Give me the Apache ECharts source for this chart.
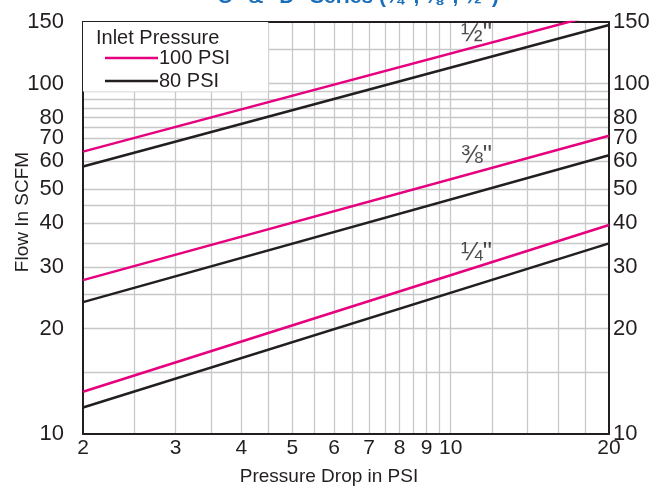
<!DOCTYPE html>
<html>
<head>
<meta charset="utf-8">
<script src="https://cdn.jsdelivr.net/npm/echarts@6/dist/echarts.min.js"></script>
<style>
  html, body { margin: 0; padding: 0; background: #fff; }
  #chart { width: 658px; height: 490px; }
</style>
</head>
<body>
<div id="chart"></div>
<script>
// pressure drop (x) at the two ends of each line
const dropEnds = [2, 20];
// flow in SCFM at those ends
const flowHalf100 = [64, 161];
const flowHalf80 = [58, 147];
const flowThreeEighths100 = [27.5, 71];
const flowThreeEighths80 = [23.8, 62.5];
const flowQuarter100 = [13.2, 39.5];
const flowQuarter80 = [11.9, 35];

const pressureNames = ['100 PSI', '80 PSI'];
const sizeNames = ['\u00bc"', '\u215c"', '\u00bd"'];

// tick labels and grid lines
const xLabels = [2, 3, 4, 5, 6, 7, 8, 9, 10, 20];
const xGrid = [2.5, 3, 3.5, 4, 4.5, 5, 5.5, 6, 6.5, 7, 7.5, 8, 8.5, 9, 9.5, 10, 12, 14, 16, 18];
const yLabels = [10, 20, 30, 40, 50, 60, 70, 80, 100, 150];
const yGrid = [15, 20, 25, 30, 35, 40, 45, 50, 60, 70, 75, 80, 85, 90, 95, 100, 125];

const PINK = '#e6007e';
const BLACK = '#231f20';
const GRID = '#c8c8c8';
const FONT = "'Liberation Sans', Arial, sans-serif";

const chart = echarts.init(document.getElementById('chart'));

function lineSeries(name, flows, color) {
  return {
    name: name,
    type: 'line',
    data: dropEnds.map((x, i) => [x, flows[i]]),
    symbol: 'none',
    lineStyle: { color: color, width: 2.5 },
    itemStyle: { color: color },
    silent: true,
    z: 3
  };
}

const series = [
  lineSeries(pressureNames[0], flowQuarter100, PINK),
  lineSeries(pressureNames[1], flowQuarter80, BLACK),
  lineSeries(pressureNames[0], flowThreeEighths100, PINK),
  lineSeries(pressureNames[1], flowThreeEighths80, BLACK),
  lineSeries(pressureNames[0], flowHalf100, PINK),
  lineSeries(pressureNames[1], flowHalf80, BLACK),
  {
    // white box behind the legend
    type: 'line',
    data: [],
    silent: true,
    markArea: {
      silent: true,
      itemStyle: { color: '#fff' },
      data: [[{ xAxis: 2, yAxis: 95 }, { xAxis: 4.5, yAxis: 150 }]]
    },
    z: 1
  },
  {
    // size labels above the pink lines
    type: 'scatter',
    symbolSize: 0,
    silent: true,
    data: [[11.2, 33], [11.2, 62.4], [11.2, 139]],
    label: {
      show: true,
      position: 'inside',
      formatter: p => sizeNames[p.dataIndex],
      color: BLACK,
      fontSize: 26,
      fontFamily: FONT
    },
    z: 4
  }
];

const xBase = {
  type: 'log',
  logBase: 10,
  min: 2,
  max: 20,
  axisTick: { show: false, customValues: xGrid },
  axisLine: { show: true, onZero: false, lineStyle: { color: BLACK, width: 2 } }
};
const yBase = {
  type: 'log',
  logBase: 10,
  min: 10,
  max: 150,
  axisTick: { show: false, customValues: yGrid },
  axisLine: { show: true, onZero: false, lineStyle: { color: BLACK, width: 2 } }
};

chart.setOption({
  animation: false,
  textStyle: { fontFamily: FONT },
  title: [
    {
      text: '"C" & "D" Series (\u00bc", \u215c", \u00bd")',
      left: 353,
      textAlign: 'center',
      top: -13,
      padding: 0,
      textStyle: { color: '#1b6fb8', fontSize: 21, fontWeight: 'bold', fontFamily: FONT }
    },
    {
      text: 'Inlet Pressure',
      left: 96,
      top: 28,
      padding: 0,
      textStyle: { color: BLACK, fontSize: 20, fontWeight: 'normal', fontFamily: FONT }
    }
  ],
  legend: {
    data: pressureNames,
    orient: 'vertical',
    left: 105,
    top: 48,
    padding: 0,
    icon: 'rect',
    itemWidth: 53,
    itemHeight: 2.5,
    itemGap: 3,
    selectedMode: false,
    textStyle: { color: BLACK, fontSize: 20, fontFamily: FONT, padding: [0, 0, 0, -4] }
  },
  grid: { left: 83, right: 49, top: 22, bottom: 56, show: false, outerBoundsMode: 'none', containLabel: false },
  xAxis: [
    Object.assign({}, xBase, {
      position: 'bottom',
      name: 'Pressure Drop in PSI',
      nameLocation: 'middle',
      nameGap: 33,
      nameMoveOverlap: false,
      nameTextStyle: { color: BLACK, fontSize: 19, padding: [0, 34, 0, 0] },
      axisLabel: { customValues: xLabels, color: BLACK, fontSize: 21, margin: 4 },
      splitLine: { show: true, lineStyle: { color: GRID, width: 1.3 } }
    }),
    Object.assign({}, xBase, {
      position: 'top',
      axisLabel: { show: false },
      splitLine: { show: false }
    })
  ],
  yAxis: [
    Object.assign({}, yBase, {
      position: 'left',
      name: 'Flow In SCFM',
      nameLocation: 'middle',
      nameGap: 51,
      nameMoveOverlap: false,
      nameTextStyle: { color: BLACK, fontSize: 19, padding: [0, 0, 0, 32] },
      axisLabel: { customValues: yLabels, color: BLACK, fontSize: 22, margin: 19 },
      splitLine: { show: true, lineStyle: { color: GRID, width: 1.3 } }
    }),
    Object.assign({}, yBase, {
      position: 'right',
      axisLabel: { customValues: yLabels, color: BLACK, fontSize: 22, margin: 4 },
      splitLine: { show: false }
    })
  ],
  series: series
});
</script>
</body>
</html>
